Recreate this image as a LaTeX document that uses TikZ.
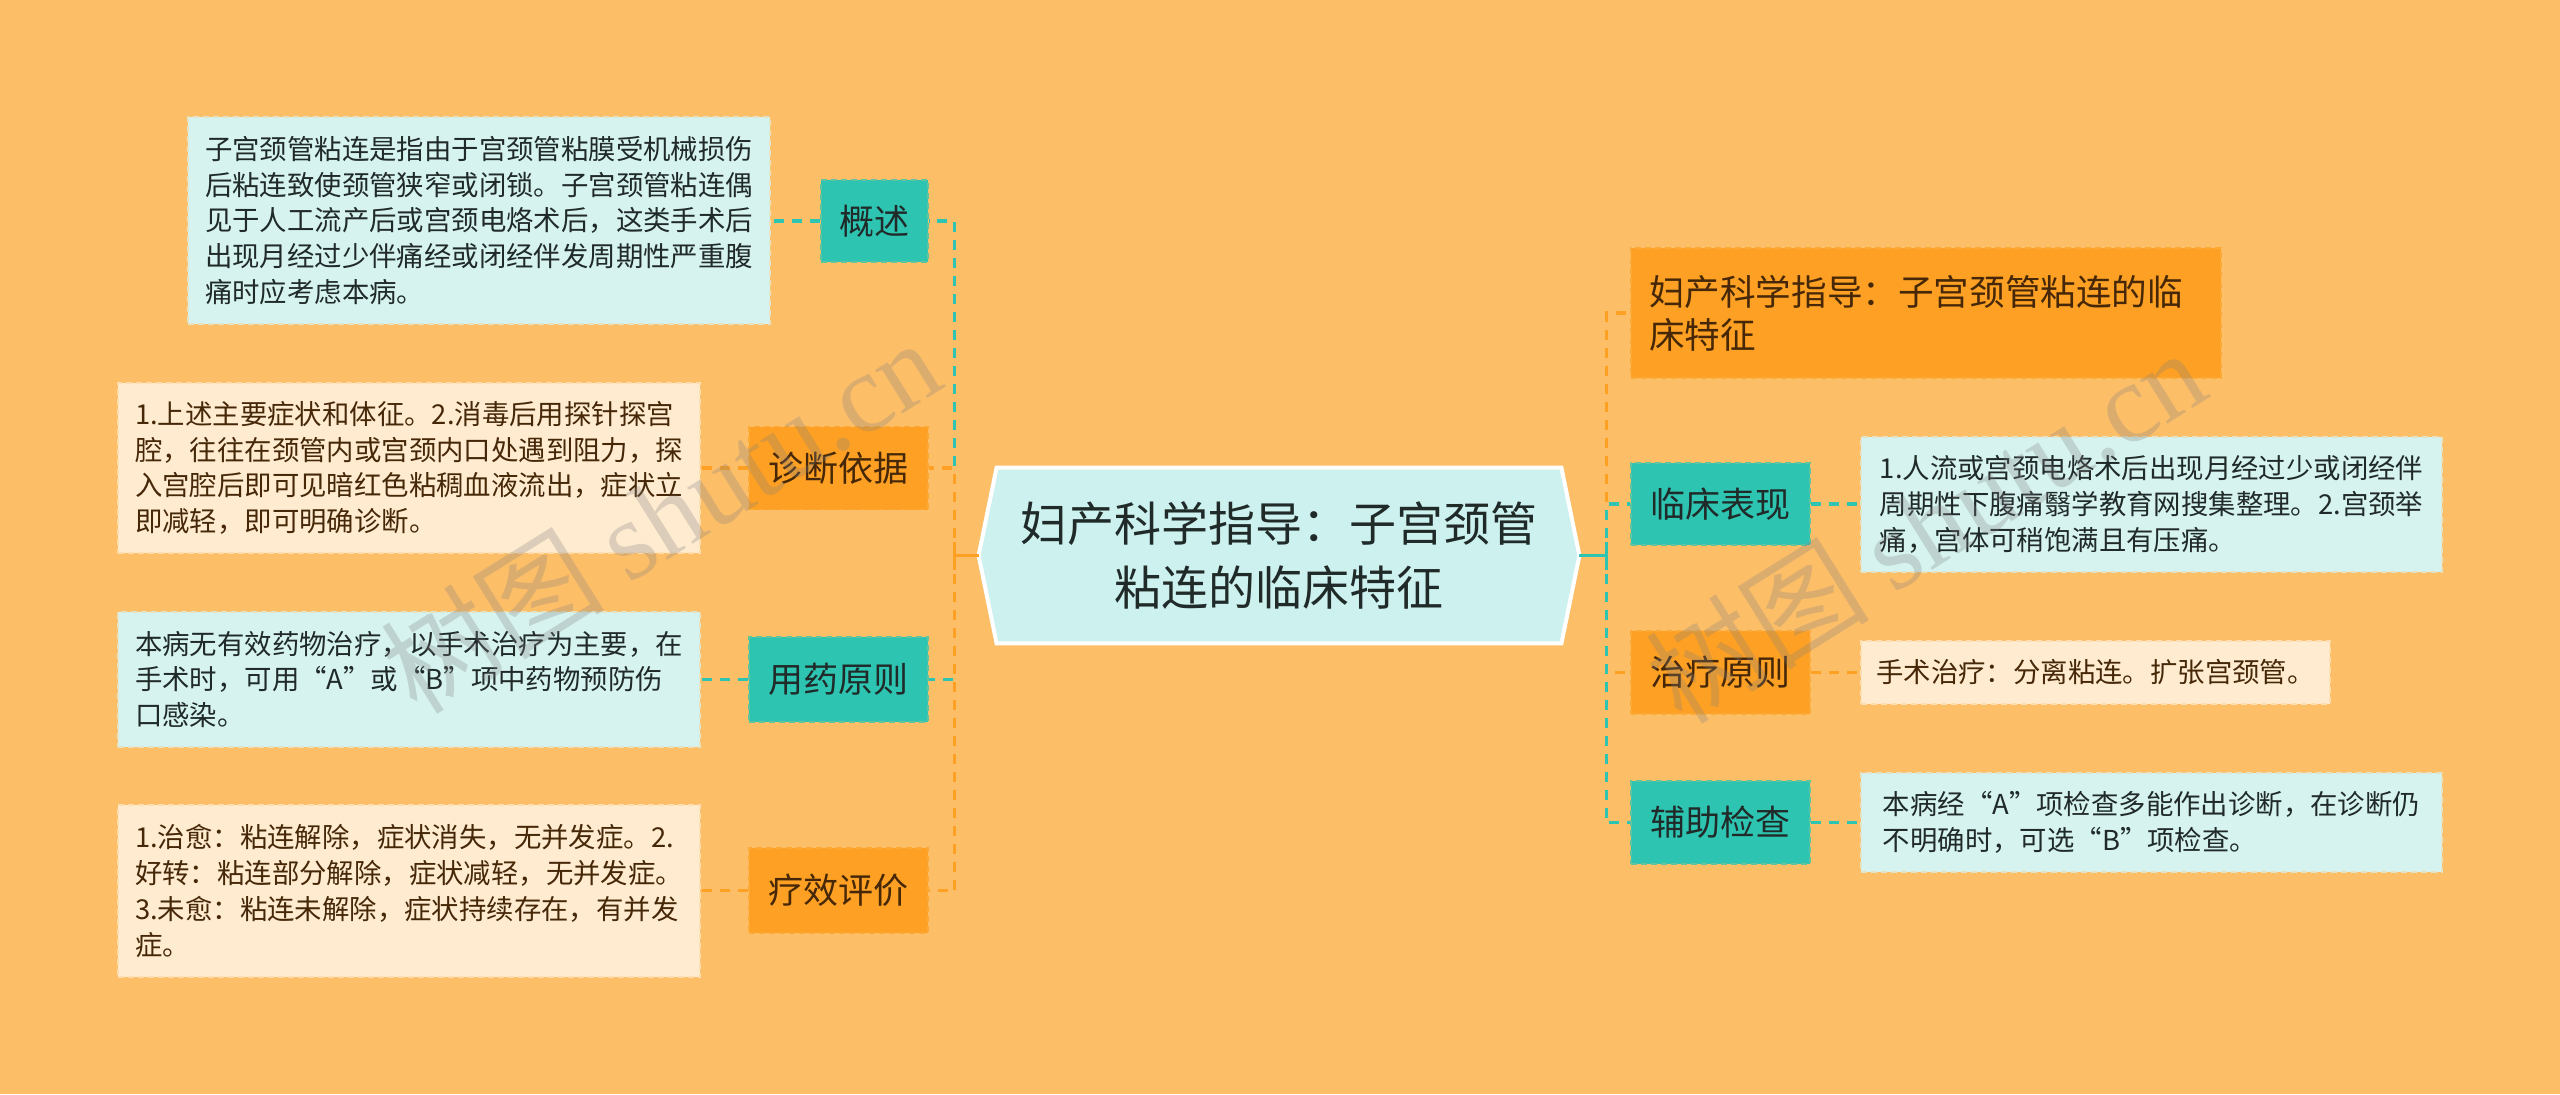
\documentclass[tikz,border=0pt]{standalone}
\usepackage{fontspec}
\setmainfont{Noto Sans CJK SC}
\newfontfamily\wmserif{Liberation Serif}
\usetikzlibrary{calc,backgrounds}
\definecolor{bgc}{RGB}{253,190,104}
\definecolor{tealc}{RGB}{46,196,178}
\definecolor{orangec}{RGB}{253,160,35}
\definecolor{cyanf}{RGB}{214,243,240}
\definecolor{creamf}{RGB}{255,236,208}
\definecolor{centerf}{RGB}{204,241,239}
\definecolor{darkt}{RGB}{32,42,40}
\definecolor{brownt}{RGB}{70,40,8}
\begin{document}
\begin{tikzpicture}[x=0.5pt,y=-0.5pt,
  every node/.style={inner sep=0pt},
  branchT/.style={fill=tealc, draw=tealc!75!bgc, dashed, dash pattern=on 3pt off 2pt, line width=0.8pt,
    text=darkt, font=\fontsize{17.5pt}{21pt}\selectfont},
  branchO/.style={fill=orangec, draw=orangec!70!bgc, dashed, dash pattern=on 3pt off 2pt, line width=0.8pt,
    text=brownt, font=\fontsize{17.5pt}{21pt}\selectfont},
  detC/.style={fill=cyanf, draw=cyanf!70!bgc, dashed, dash pattern=on 3pt off 2pt, line width=0.8pt,
    text=darkt, align=left, font=\fontsize{13.7pt}{17.85pt}\selectfont},
  detO/.style={fill=creamf, draw=creamf!70!bgc, dashed, dash pattern=on 3pt off 2pt, line width=0.8pt,
    text=brownt, align=left, font=\fontsize{13.7pt}{17.85pt}\selectfont},
  topO/.style={fill=orangec, draw=orangec!70!bgc, dashed, dash pattern=on 3pt off 2pt, line width=0.8pt,
    text=brownt, align=left, text width=277pt, inner xsep=9pt, font=\fontsize{17.8pt}{21.5pt}\selectfont},
  connT/.style={draw=tealc, line width=1.6pt, dash pattern=on 5pt off 4pt},
  connO/.style={draw=orangec, line width=1.6pt, dash pattern=on 5pt off 4pt},
  solidT/.style={draw=tealc, line width=1.6pt},
  solidO/.style={draw=orangec, line width=1.6pt},
  wm/.style={rotate=32, text=gray, opacity=0.28, font=\fontsize{56pt}{56pt}\selectfont}
]
\useasboundingbox (0,0) rectangle (2560,1094);

% central topic
\node[minimum width=300pt, minimum height=87.5pt, align=center, text=darkt,
  font=\fontsize{23.5pt}{32pt}\selectfont] (c) at (1279,555.5)
  {妇产科学指导：子宫颈管\\粘连的临床特征};

% left branches
\node[branchT, minimum width=53.5pt, minimum height=41pt] (b1) at (874.5,221) {概述};
\node[branchO, minimum width=89.5pt, minimum height=41.5pt] (b2) at (838.5,468) {诊断依据};
\node[branchT, minimum width=89.5pt, minimum height=42.5pt] (b3) at (838.5,679.5) {用药原则};
\node[branchO, minimum width=89.5pt, minimum height=42.5pt] (b4) at (838.5,890.5) {疗效评价};

\node[detC, minimum width=291pt, minimum height=103.5pt] (d1) at (479,220.5)
  {子宫颈管粘连是指由于宫颈管粘膜受机械损伤\\后粘连致使颈管狭窄或闭锁。子宫颈管粘连偶\\见于人工流产后或宫颈电烙术后，这类手术后\\出现月经过少伴痛经或闭经伴发周期性严重腹\\痛时应考虑本病。};
\node[detO, minimum width=291pt, minimum height=85pt] (d2) at (409,468)
  {1.上述主要症状和体征。2.消毒后用探针探宫\\腔，往往在颈管内或宫颈内口处遇到阻力，探\\入宫腔后即可见暗红色粘稠血液流出，症状立\\即减轻，即可明确诊断。};
\node[detC, minimum width=291pt, minimum height=67.5pt] (d3) at (409,679.5)
  {本病无有效药物治疗，以手术治疗为主要，在\\手术时，可用“A”或“B”项中药物预防伤\\口感染。};
\node[detO, minimum width=291pt, minimum height=86pt] (d4) at (409,891)
  {1.治愈：粘连解除，症状消失，无并发症。2.\\好转：粘连部分解除，症状减轻，无并发症。\\3.未愈：粘连未解除，症状持续存在，有并发\\症。};

% right branches
\node[topO, minimum width=295pt, minimum height=65pt] (r0) at (1926,313)
  {妇产科学指导：子宫颈管粘连的临\\床特征};
\node[branchT, minimum width=89.5pt, minimum height=41pt] (r1) at (1720.5,504) {临床表现};
\node[detC, minimum width=290.5pt, minimum height=67.5pt] (rd1) at (2151.5,504.5)
  {1.人流或宫颈电烙术后出现月经过少或闭经伴\\周期性下腹痛翳学教育网搜集整理。2.宫颈举\\痛，宫体可稍饱满且有压痛。};
\node[branchO, minimum width=89.5pt, minimum height=41.5pt] (r2) at (1720.5,672.5) {治疗原则};
\node[detO, minimum width=234.5pt, minimum height=31.5pt] (rd2) at (2095.5,672.5)
  {手术治疗：分离粘连。扩张宫颈管。};
\node[branchT, minimum width=89.5pt, minimum height=41.5pt] (r3) at (1720.5,822.5) {辅助检查};
\node[detC, minimum width=290.5pt, minimum height=49.5pt] (rd3) at (2151.5,822.5)
  {本病经“A”项检查多能作出诊断，在诊断仍\\不明确时，可选“B”项检查。};

\begin{scope}[on background layer]
  \fill[bgc] (0,0) rectangle (2560,1094);
  \draw[fill=centerf, draw=white, line width=2pt]
    (c.west) -- ($(c.north west)+(18,0)$) -- ($(c.north east)+(-18,0)$) -- (c.east)
    -- ($(c.south east)+(-18,0)$) -- ($(c.south west)+(18,0)$) -- cycle;
  % junctions
  \coordinate (lj) at ($(c.west)+(-24,0)$);
  \coordinate (rj) at ($(c.east)+(27,0)$);
  % left connectors
  \draw[connT] (lj) |- (b1.east);
  \draw[connT] (lj) |- (b3.east);
  \draw[connO] (lj) |- (b2.east);
  \draw[connO] (lj) |- (b4.east);
  \draw[solidO] (c.west) -- (lj);
  \draw[solidO] ($(lj)+(0,-14)$) -- ($(lj)+(0,14)$);
  \draw[connT] (b1.west) -- (d1.east |- b1.west);
  \draw[connO] (b2.west) -- (d2.east |- b2.west);
  \draw[connT] (b3.west) -- (d3.east |- b3.west);
  \draw[connO] (b4.west) -- (d4.east |- b4.west);
  % right connectors
  \draw[connO] (rj) |- (r0.west);
  \draw[connO] (rj) |- (r2.west);
  \draw[connT] (rj) |- (r1.west);
  \draw[connT] (rj) |- (r3.west);
  \draw[solidT] (c.east) -- (rj);
  \draw[solidT] ($(rj)+(0,-14)$) -- ($(rj)+(0,14)$);
  \draw[connT] (r1.east) -- (rd1.west |- r1.east);
  \draw[connO] (r2.east) -- (rd2.west |- r2.east);
  \draw[connT] (r3.east) -- (rd3.west |- r3.east);
\end{scope}

% watermarks
\node[wm] (w1) at (660,515) {树图 {\wmserif shutu.cn}};
\node[wm] (w2) at (1925,525) {树图 {\wmserif shutu.cn}};
\end{tikzpicture}
\end{document}
